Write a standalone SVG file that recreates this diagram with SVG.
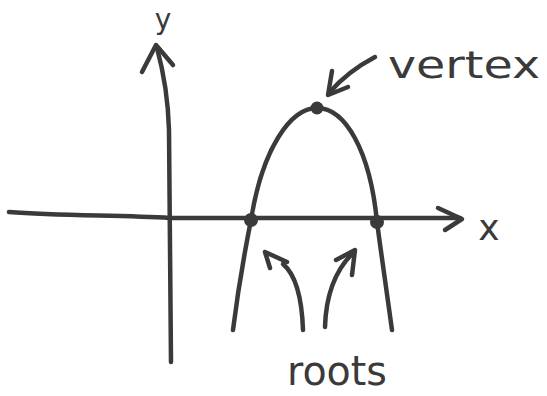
<svg xmlns="http://www.w3.org/2000/svg" width="547" height="396" viewBox="0 0 547 396">
<style>
.s{fill:none;stroke:#3a3a3a;stroke-width:4.5;stroke-linecap:round;stroke-linejoin:round}
.d{fill:#3a3a3a}
.t{fill:#3a3a3a;font-family:"DejaVu Sans","Liberation Sans",sans-serif}
</style>
<rect width="547" height="396" fill="#ffffff"/>
<g id="connectors">
<path class="s" d="M9,212 C60,216 120,215 170,218 L460,218"/>
<path class="s" d="M438,208 L462,219 L445,230"/>
<path class="s" d="M157,48 C163,70 168,95 169,130 L171,362"/>
<path class="s" d="M142,72 L156,45 L173,65"/>
<path class="s" d="M375,57 C358,66 342,78 330,92"/>
<path class="s" d="M332,71 L328,95 L348,87"/>
<path class="s" d="M303,330 C302,300 296,275 283,264"/>
<path class="s" d="M270,268 L265,252 L287,262"/>
<path class="s" d="M325,327 C326,295 336,270 352,254"/>
<path class="s" d="M336,260 L355,250 L352,275"/>
</g>
<g id="parabola">
<path class="s" d="M233,330 C238,290 245,250 251,220 C262,150 290,108 317,108 C345,108 370,150 377,222 C382,260 388,300 392,330"/>
</g>
<g id="vertex-point"><circle class="d" cx="317" cy="108" r="6.5"/></g>
<g id="root-left"><circle class="d" cx="251" cy="220" r="7"/></g>
<g id="root-right"><circle class="d" cx="377" cy="222" r="7"/></g>
<g id="label-y"><text class="t" x="163" y="29" font-size="28" text-anchor="middle">y</text></g>
<g id="label-x"><text class="t" x="489" y="240" font-size="36" text-anchor="middle">x</text></g>
<g id="label-vertex"><text class="t" x="388" y="78" font-size="38" textLength="152" lengthAdjust="spacingAndGlyphs">vertex</text></g>
<g id="label-roots"><text class="t" x="287" y="385" font-size="40" textLength="100" lengthAdjust="spacingAndGlyphs">roots</text></g>
</svg>
